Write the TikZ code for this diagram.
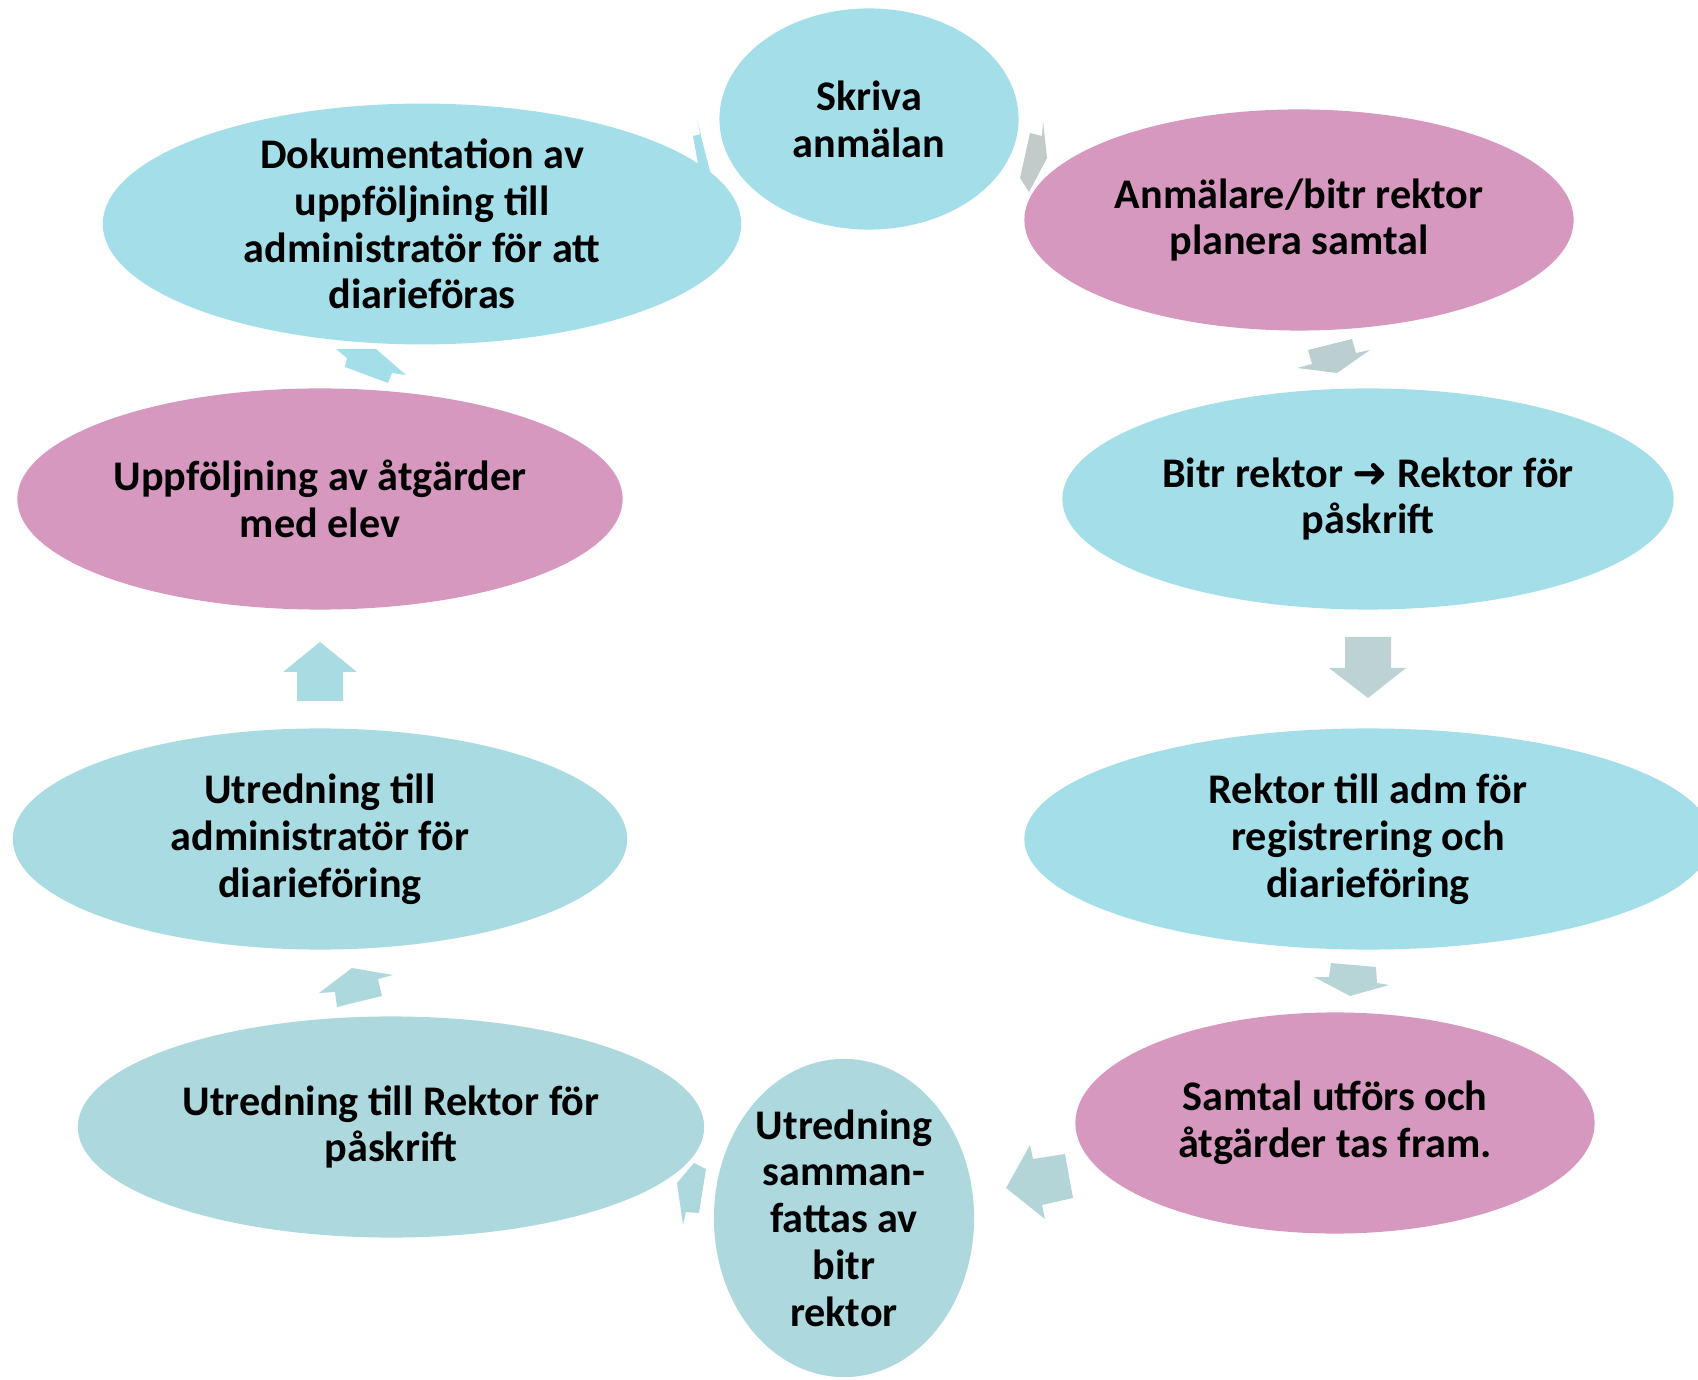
\documentclass[tikz,border=0pt]{standalone}
\usepackage{fontspec}
\setmainfont{Carlito}
\newfontfamily\arrowfont{DejaVu Sans}
\usepackage{tikz}
\usetikzlibrary{shapes.geometric}

\definecolor{stageblue}{HTML}{A3DEE9}
\definecolor{stagepink}{HTML}{D698BF}
\definecolor{stagegrey}{HTML}{ADD8DD}
\definecolor{stageaqua}{HTML}{A9DBE3}
\definecolor{arrowgreyA}{HTML}{C3CACA}
\definecolor{arrowgreyB}{HTML}{BCCFD0}
\definecolor{arrowgreyC}{HTML}{BCD2D3}
\definecolor{arrowgreyD}{HTML}{B7D4D6}
\definecolor{arrowgreyE}{HTML}{B4D5D8}

\tikzset{
    stage/.style={ellipse, inner sep=0pt, minimum height=2.21cm, align=center,
        font=\bfseries\fontsize{12}{13.3}\selectfont},
    bluestage/.style={stage, fill=stageblue},
    pinkstage/.style={stage, fill=stagepink},
    greystage/.style={stage, fill=stagegrey},
    aquastage/.style={stage, fill=stageaqua},
    blockarrow/.style={fill=#1, draw=none}
}

\begin{document}
\begin{tikzpicture}[x=0.01cm, y=-0.01cm]
    	\useasboundingbox (0, 0) rectangle (1698, 1380);
    	% Block arrows:
    	\fill[blockarrow=stageblue] (697, 121) -- (701, 134) -- (693, 136) -- (700, 175) -- (715, 190) -- cycle;
    	\fill[blockarrow=arrowgreyA] (1043, 121) -- (1042, 136) -- (1030, 133) -- (1020, 178) -- (1029, 192) -- (1047, 158) -- cycle;
    	\fill[blockarrow=arrowgreyB] (1308, 350) -- (1352, 339) -- (1356, 353) -- (1370, 350) -- (1337, 373) -- (1297, 368) -- (1312, 364) -- cycle;
    	\fill[blockarrow=arrowgreyC] (1345, 637) -- (1391, 637) -- (1391, 668) -- (1406, 668) -- (1368, 698) -- (1329, 668) -- (1345, 668) -- cycle;
    	\fill[blockarrow=arrowgreyD] (1331, 963) -- (1376, 967) -- (1377, 983) -- (1389, 985) -- (1350, 996) -- (1314, 977) -- (1329, 977) -- cycle;
    	\fill[blockarrow=arrowgreyE] (1030, 1145) -- (1033, 1159) -- (1065, 1154) -- (1073, 1198) -- (1042, 1205) -- (1045, 1219) -- (1006, 1188) -- cycle;
    	\fill[blockarrow=stagegrey] (694, 1163) -- (706, 1169) -- (699, 1213) -- (686, 1212) -- (683, 1225) -- (677, 1183) -- cycle;
    	\fill[blockarrow=stagegrey] (319, 993) -- (352, 968) -- (393, 975) -- (378, 979) -- (382, 996) -- (337, 1007) -- (335, 992) -- cycle;
    	\fill[blockarrow=stageaqua] (320, 642) -- (357, 672) -- (343, 672) -- (343, 701) -- (297, 701) -- (297, 672) -- (283, 672) -- cycle;
    	\fill[blockarrow=stageblue] (336, 349) -- (376, 349) -- (406, 375) -- (392, 373) -- (388, 383) -- (345, 367) -- (347, 358) -- cycle;
    	% Stages of the cycle:
    	\node[bluestage, minimum width=2.99cm] (skriva) at (869, 119) {Skriva\\anmälan};
    	\node[pinkstage, minimum width=5.49cm] (planera) at (1299, 220) {Anmälare/bitr rektor\\planera samtal};
    	\node[bluestage, minimum width=6.11cm] (paskrift) at (1368, 499) {Bitr rektor {\arrowfont\bfseries ➜} Rektor för\\påskrift};
    	\node[bluestage, minimum width=6.87cm] (registrering) at (1368, 839) {Rektor till adm för\\registrering och\\diarieföring};
    	\node[pinkstage, minimum width=5.19cm] (samtal) at (1335, 1123) {Samtal utförs och\\åtgärder tas fram.};
    	\node[greystage, minimum width=2.60cm, minimum height=3.18cm] (sammanfattas) at (844, 1218) {Utredning\\samman-\\fattas av\\bitr\\rektor};
    	\node[greystage, minimum width=6.26cm] (utrrektor) at (391, 1127) {Utredning till Rektor för\\påskrift};
    	\node[aquastage, minimum width=6.14cm] (utradm) at (320, 839) {Utredning till\\administratör för\\diarieföring};
    	\node[pinkstage, minimum width=6.05cm] (uppfoljning) at (320, 499) {Uppföljning av åtgärder\\med elev};
    	\node[bluestage, minimum width=6.38cm] (dokumentation) at (422, 224) {Dokumentation av\\uppföljning till\\administratör för att\\diarieföras};
    \end{tikzpicture}
\end{document}
